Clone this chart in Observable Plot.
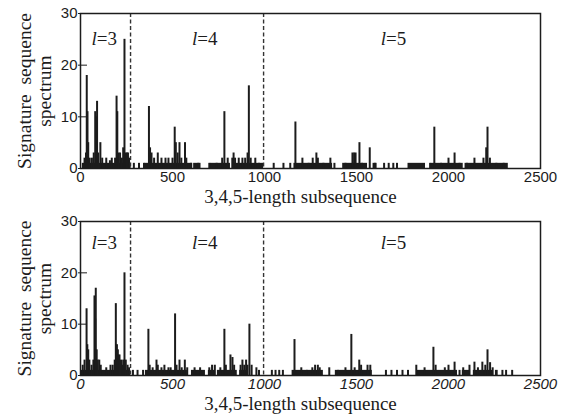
<!DOCTYPE html>
<html><head><meta charset="utf-8">
<script src="https://cdn.jsdelivr.net/npm/d3@7"></script>
<script src="https://cdn.jsdelivr.net/npm/@observablehq/plot@0.6"></script>
<style>body{margin:0;background:#fff;} #c{width:561px;} svg{display:block;overflow:visible}</style>
</head><body><div id="c"></div>
<script>
const xTicks = [0, 500, 1000, 1500, 2000, 2500];
const yTicks = [0, 10, 20, 30];
const dividers = [272, 995];
const regionX = [88, 635, 1660];
const regionN = ["=3", "=4", "=5"];
const xLabel = "3,4,5-length subsequence";
const yLabel = "Signature  sequence\nspectrum";

// top panel: [x, value]
const topSpikes = [
  [22,2],[30,3],[34,18],[38,11],[42,5],[50,2],[62,2],[72,3],[80,11],[86,10],[90,13],[96,3],[108,5],[118,2],
  [140,2],[160,1.5],[170,2],[188,2],[196,14],[200,11],[206,3],[215,3],[225,2],[232,4],[239,25],[246,3],[252,3],[258,3],[264,2],
  [290,1],[318,1],[345,1],[372,12],[378,4],[386,3],[400,2],[420,3],[440,2],[462,2],[478,2],[500,2],[512,8],[518,5],[528,3],
  [538,5],[548,2],[568,5],[575,2],[600,1],[640,1],[700,1],[740,1],[770,2],[782,11],[800,2],[825,2],[832,3],[840,2],[860,2],
  [880,2],[895,2],[908,3],[915,16],[925,2],[950,2],[970,1],
  [1050,1],[1103,1],[1140,1],[1168,9],[1206,2],[1240,1],[1262,2],[1282,3],[1290,2],[1320,1],[1358,2],[1380,1],[1440,1],
  [1478,3],[1487,3],[1495,3],[1516,5],[1530,1],[1572,4],[1600,1],[1650,1],[1675,1],[1700,1],[1720,1],[1900,1],[1923,8],
  [1960,1],[2000,2],[2033,3],[2060,1],[2100,1],[2141,2],[2190,2],[2205,4],[2212,8],[2225,2],[2260,1],[2300,1]
];
// top panel baseline runs: [from, to, value]
const topBlocks = [
  [10,275,1],[350,610,1],[615,655,1],[705,815,1],[830,995,1],[1160,1370,1],[1425,1560,1],[1590,1612,1],
  [1780,1875,1],[1905,2080,1],[2090,2325,1]
];

// bottom panel: [x, value]
const botSpikes = [
  [12,2],[22,3],[33,13],[37,6],[42,5],[48,3],[60,2],[70,3],[76,15.5],[80,11],[83,17],[88,5],[94,3],[102,3],[110,2],
  [140,1.5],[163,2],[175,2],[186,3],[192,14],[198,6],[203,5],[206,4],[212,4],[220,3],[226,2],[232,3],[239,20],[246,3],[256,2],[264,1.5],
  [285,1],[310,1],[340,1],[369,9],[376,2],[392,1.5],[413,3],[420,2],[440,1.5],[456,2],[478,1.5],[490,1.5],[514,12],[522,2],
  [538,3],[550,1.5],[567,3],[580,1.5],[620,1.5],[650,1.5],[700,1.5],[715,2],[730,2],[760,1.5],[782,9],[790,2],[815,4],[826,3.5],
  [835,2],[870,2],[880,3],[890,2],[900,3],[907,2],[918,10],[930,2],[956,1.5],[970,1],
  [1040,1],[1060,1],[1080,1],[1100,1],[1163,7],[1200,1.5],[1230,1],[1260,1.5],[1275,2],[1290,2],[1300,1.5],[1352,1.5],[1400,1],
  [1440,1.5],[1472,8],[1490,1.5],[1515,3],[1525,2],[1560,2],[1575,2],[1660,1],[1690,1],[1720,1],[1750,1],[1780,1],[1825,2],
  [1870,1.5],[1918,5.5],[1930,2],[1980,1.5],[2000,2],[2033,2.6],[2060,1],[2080,1.5],[2114,2],[2141,2.6],[2160,1.5],[2184,2.6],
  [2200,2],[2212,5],[2226,2.5],[2240,1.5],[2293,1],[2313,1],[2346,1]
];
const botBlocks = [
  [5,270,1],[353,581,1],[603,679,1],[695,733,1],[744,852,1],[865,910,1],[1150,1320,1],[1385,1586,1],
  [1830,2049,1],[2075,2120,1],[2135,2240,1],[2255,2270,1]
];

const ink = "#1c1c1c";
const serif = "'Liberation Serif','Times New Roman',serif";

function panel(spikes, blocks, height, marginTop, italic, labelDy) {
  return Plot.plot({
    width: 561, height, marginTop, marginBottom: 42, marginLeft: 80, marginRight: 21,
    x: {domain: [0, 2500]},
    y: {domain: [0, 30]},
    style: {fontFamily: "'Liberation Sans', Arial, sans-serif", fontSize: "15px", color: ink, background: "white"},
    marks: [
      Plot.rectY(blocks, {x1: d => d[0], x2: d => d[1], y1: 0, y2: d => d[2], fill: ink}),
      Plot.ruleX(spikes, {x: d => d[0], y1: 0, y2: d => d[1], stroke: ink, strokeWidth: 2}),
      Plot.ruleX(dividers, {stroke: "#333", strokeDasharray: "4,2.5", strokeWidth: 1.4}),
      Plot.frame({stroke: ink, strokeWidth: 1.5}),
      Plot.axisX({ticks: xTicks, tickSize: 0, tickPadding: 3, label: null, tickFormat: d => String(d),
        fontStyle: italic ? "italic" : "normal"}),
      Plot.axisY({ticks: yTicks, tickSize: 2, tickPadding: 1, label: null}),
      Plot.axisY({ticks: yTicks.slice(1, 3), tickSize: -7, text: null, label: null}),
      Plot.text(regionX, {x: d => d, frameAnchor: "top", dy: labelDy, lineAnchor: "middle", text: () => "l",
        fontStyle: "italic", textAnchor: "end", fontFamily: serif, fontSize: 19, fill: ink}),
      Plot.text(regionX, {x: d => d, frameAnchor: "top", dy: labelDy, lineAnchor: "middle", text: (d, i) => regionN[i],
        textAnchor: "start", fontFamily: serif, fontSize: 19, fill: ink}),
      Plot.text([yLabel], {frameAnchor: "left", dx: -46, rotate: -90, text: d => d, fontFamily: serif,
        textAnchor: "middle", lineAnchor: "middle", fontSize: 19.5, lineHeight: 1.0, fill: ink}),
      Plot.text([xLabel], {frameAnchor: "bottom", dx: -10, dy: 34, text: d => d, fontFamily: serif,
        textAnchor: "middle", fontSize: 19, fill: ink})
    ]
  });
}

const c = document.getElementById("c");
c.append(panel(topSpikes, topBlocks, 210, 13, false, 25));
c.append(panel(botSpikes, botBlocks, 207, 11, true, 21));
</script>
</body></html>
